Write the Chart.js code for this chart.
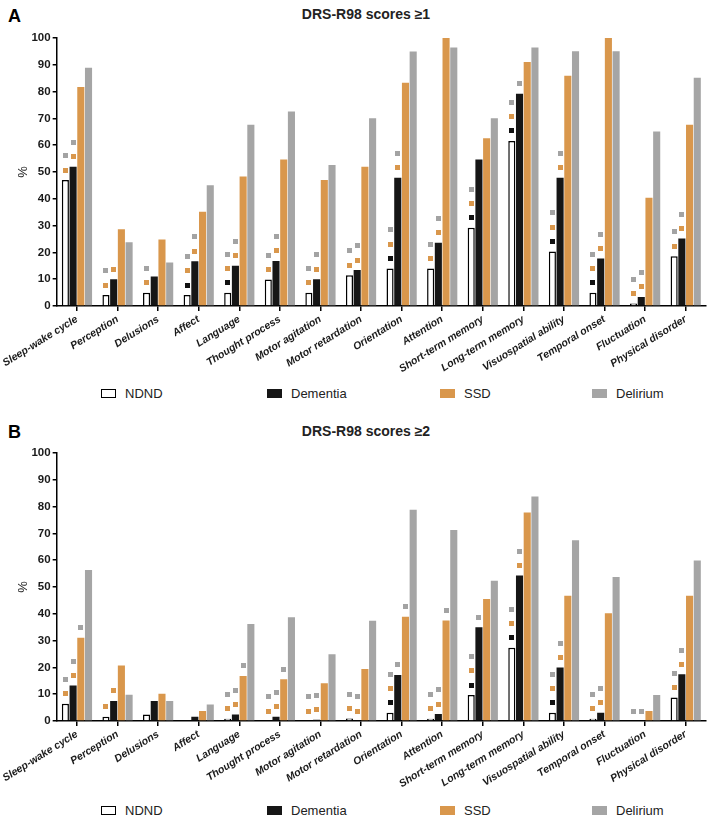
<!DOCTYPE html>
<html>
<head>
<meta charset="utf-8">
<script src="https://cdn.jsdelivr.net/npm/chart.js@4.4.1/dist/chart.umd.min.js"></script>
<style>
	body { margin: 0; background: #fff; font-family: Arial, "Liberation Sans", sans-serif; }
	#wrap { position: relative; width: 726px; height: 825px; overflow: hidden; }
	canvas { position: absolute; left: 0; }
	.panel { position: absolute; font-weight: bold; font-size: 18px; color: #000; }
	.title { position: absolute; left: 0; width: 732px; text-align: center; font-weight: bold; font-size: 14px; color: #222; }
	.legend { position: absolute; left: 0; width: 726px; height: 14px; font-size: 13px; color: #222; }
	.legend span.box { position: absolute; width: 15px; height: 9px; box-sizing: border-box; }
	.legend span.txt { position: absolute; line-height: 13px; }
</style>
</head>
<body>
<div id="wrap">
	<div class="panel" style="left:8px;top:6px;">A</div>
	<div class="title" style="top:6px;">DRS-R98 scores ≥1</div>
	<canvas id="chartA" width="726" height="382" style="top:0px;"></canvas>
	<div class="legend" id="legendA" style="top:387px;"></div>

	<div class="panel" style="left:8px;top:422px;">B</div>
	<div class="title" style="top:423px;">DRS-R98 scores ≥2</div>
	<canvas id="chartB" width="726" height="382" style="top:415px;"></canvas>
	<div class="legend" id="legendB" style="top:804px;"></div>
</div>
<script>
var categories = ['Sleep-wake cycle', 'Perception', 'Delusions', 'Affect', 'Language', 'Thought process',
	'Motor agitation', 'Motor retardation', 'Orientation', 'Attention', 'Short-term memory',
	'Long-term memory', 'Visuospatial ability', 'Temporal onset', 'Fluctuation', 'Physical disorder'];
var seriesNames = ['NDND', 'Dementia', 'SSD', 'Delirium'];
var yTicks = [0, 10, 20, 30, 40, 50, 60, 70, 80, 90, 100];

// panel A : scores >= 1 (%)
var ndndA = [47.0, 4.1, 4.9, 4.1, 4.9, 9.9, 4.9, 11.5, 14.0, 14.0, 29.2, 61.6, 20.3, 4.9, 0.9, 18.6];
var dementiaA = [52.0, 10.0, 11.0, 16.7, 15.0, 16.8, 10.0, 13.4, 47.9, 23.6, 54.7, 79.2, 47.9, 17.7, 3.4, 25.2];
var ssdA = [81.7, 28.6, 24.8, 35.2, 48.3, 54.7, 47.0, 52.0, 83.3, 100, 62.6, 91.0, 85.9, 100, 40.4, 67.6];
var deliriumA = [88.9, 23.8, 16.2, 45.1, 67.6, 72.6, 52.6, 70.1, 95.0, 96.5, 70.1, 96.5, 95.1, 95.1, 65.1, 85.2];

// panel B : scores >= 2 (%)
var ndndB = [6.4, 1.6, 2.4, 0, 0.8, 0, 0, 0.9, 3.1, 0.8, 9.7, 27.3, 3.1, 0.8, 0, 8.8];
var dementiaB = [13.2, 7.5, 7.5, 1.6, 2.4, 1.6, 0.5, 0, 17.2, 2.6, 35.0, 54.3, 20.0, 3.1, 0, 17.4];
var ssdB = [31.1, 20.7, 10.2, 3.7, 16.8, 15.6, 14.1, 19.4, 38.9, 37.5, 45.5, 77.8, 46.7, 40.2, 3.7, 46.7];
var deliriumB = [56.3, 9.8, 7.5, 6.2, 36.2, 38.7, 24.9, 37.4, 78.8, 71.3, 52.3, 83.8, 67.4, 53.7, 9.7, 59.9];

// significance marks above a bar: d = vs Dementia, s = vs SSD, g = vs Delirium
var sigNdndA = ['sg', 'sg', 'sg', 'dsg', 'dsg', 'sg', 'sg', 'sg', 'dsg', 'sg', 'dsg', 'dsg', 'dsg', 'dsg', 'sg', 'sg'];
var sigDementiaA = ['sg', 's', '', 'sg', 'sg', 'sg', 'sg', 'sg', 'sg', 'sg', '', 'g', 'sg', 'sg', 'sg', 'sg'];
var sigSsdA = ['', '', '', '', '', '', '', '', '', '', '', '', '', '', '', ''];
var sigNdndB = ['sg', 's', '', '', 'sg', 'sg', 'sg', 'sg', 'dsg', 'sg', 'dsg', 'dsg', 'dsg', 'sg', 'g', 'sg'];
var sigDementiaB = ['sg', 's', '', '', 'sg', 'sg', 'sg', 'sg', 'g', 'sg', 'g', 'sg', 'sg', 'sg', 'g', 'sg'];
var sigSsdB = ['g', '', '', '', 'g', 'g', '', '', 'g', 'g', '', '', '', '', '', ''];

var colors = { ndnd: '#ffffff', dementia: '#161616', ssd: '#d9974c', delirium: '#a5a5a5' };
var markColors = { d: '#111111', s: '#d9974c', g: '#a3a3a3' };

// draws the little squares stacked over the bars
function markerPlugin(sigs) {
	return {
		id: 'sigMarks',
		afterDatasetsDraw: function(chart) {
			var ctx = chart.ctx;
			ctx.save();
			for (var i = 0; i < sigs.length; i++) {
				var meta = chart.getDatasetMeta(i);
				meta.data.forEach(function(bar, j) {
					var code = sigs[i][j] || '';
					for (var k = 0; k < code.length; k++) {
						var cy = bar.y - 10 - k * 14.3;
						ctx.fillStyle = markColors[code[k]];
						ctx.fillRect(Math.round(bar.x - 2.5), Math.round(cy - 2.5), 5, 5);
					}
				});
			}
			ctx.restore();
		}
	};
}

function makeChart(id, ndnd, dementia, ssd, delirium, sigs) {
	var common = { barPercentage: 0.92, categoryPercentage: 0.76 };
	return new Chart(document.getElementById(id), {
		type: 'bar',
		data: {
			labels: categories,
			datasets: [
				Object.assign({ label: seriesNames[0], data: ndnd, backgroundColor: colors.ndnd, borderColor: '#000', borderWidth: 1.5 }, common),
				Object.assign({ label: seriesNames[1], data: dementia, backgroundColor: colors.dementia, borderWidth: 0 }, common),
				Object.assign({ label: seriesNames[2], data: ssd, backgroundColor: colors.ssd, borderWidth: 0 }, common),
				Object.assign({ label: seriesNames[3], data: delirium, backgroundColor: colors.delirium, borderWidth: 0 }, common)
			]
		},
		options: {
			responsive: false,
			animation: false,
			devicePixelRatio: 1,
			layout: { padding: { top: 38, right: 20, left: 0, bottom: 0 } },
			plugins: { legend: { display: false }, tooltip: { enabled: false }, title: { display: false } },
			scales: {
				x: {
					offset: true,
					grid: { drawOnChartArea: false, offset: false, tickLength: 5, color: '#000', lineWidth: 1.5 },
					border: { color: '#000', width: 1.5 },
					ticks: {
						autoSkip: false, maxRotation: 32, minRotation: 32, padding: 2,
						color: '#1a1a1a', font: { family: 'Arial', size: 10.5, weight: 'bold', style: 'italic' }
					},
					afterFit: function(scale) { scale.height = 76; }
				},
				y: {
					min: 0, max: 100,
					afterBuildTicks: function(scale) { scale.ticks = yTicks.map(function(v) { return { value: v }; }); },
					grid: { drawOnChartArea: false, tickLength: 4, color: '#000', lineWidth: 1.5 },
					border: { color: '#000', width: 1.5 },
					ticks: { padding: 2, color: '#1a1a1a', font: { family: 'Arial', size: 11.5, weight: 'bold' } },
					title: { display: true, text: '%', color: '#1a1a1a', padding: { top: 13 }, font: { family: 'Arial', size: 13 } },
					afterFit: function(scale) { scale.width = 54; }
				}
			}
		},
		plugins: [markerPlugin(sigs)]
	});
}

function makeLegend(id) {
	var el = document.getElementById(id);
	var boxX = [101, 267, 440, 592];
	var fills = [colors.ndnd, colors.dementia, colors.ssd, colors.delirium];
	seriesNames.forEach(function(name, i) {
		var b = document.createElement('span');
		b.className = 'box';
		b.style.left = boxX[i] + 'px';
		b.style.top = '2px';
		b.style.background = fills[i];
		if (i === 0) b.style.border = '1.5px solid #000';
		el.appendChild(b);
		var t = document.createElement('span');
		t.className = 'txt';
		t.style.left = (boxX[i] + 24) + 'px';
		t.style.top = '0px';
		t.textContent = name;
		el.appendChild(t);
	});
}

makeChart('chartA', ndndA, dementiaA, ssdA, deliriumA, [sigNdndA, sigDementiaA, sigSsdA]);
makeChart('chartB', ndndB, dementiaB, ssdB, deliriumB, [sigNdndB, sigDementiaB, sigSsdB]);
makeLegend('legendA');
makeLegend('legendB');
</script>
</body>
</html>
